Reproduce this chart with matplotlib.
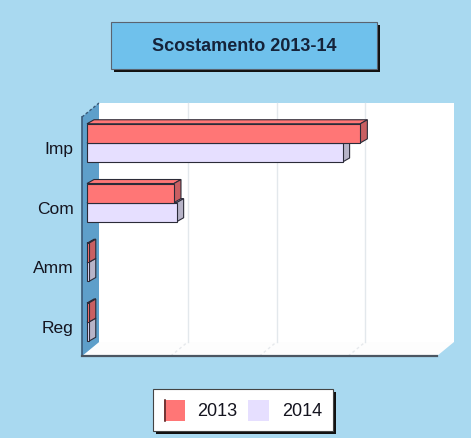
import matplotlib
matplotlib.use("Agg")
import matplotlib.pyplot as plt
from matplotlib.patches import Polygon, Rectangle
from matplotlib.transforms import IdentityTransform, offset_copy

# dati
categories = ["Imp", "Com", "Amm", "Reg"]
series = ["2013", "2014"]
val_2013 = [3.08, 0.98, 0.02, 0.02]
val_2014 = [2.88, 1.01, 0.02, 0.02]

W, H = 471, 439
BG = "#a9d9f0"
FONT = "Liberation Sans"

front_col = {"2013": "#ff7676", "2014": "#e6dfff"}
side_col = {"2013": "#c95f62", "2014": "#b7b4c8"}
EDGE = "#2b2b38"

# profondita' in pixel: pareti, spostamento barre, spessore barre
WALL_DX, WALL_DY = 17, 14
BAR_DX, BAR_DY = 5, 4
DEP_DX, DEP_DY = 7, 4

fig = plt.figure(figsize=(W / 100, H / 100), dpi=100, facecolor=BG)
ax = fig.add_axes([82 / W, 82 / H, 355 / W, 239 / H])
ax.set_xlim(0, 4)
ax.set_ylim(3.5, -0.5)
ax.patch.set_visible(False)
for s in ax.spines.values():
    s.set_visible(False)
ax.set_xticks([])
ax.set_yticks(range(len(categories)), categories)
ax.tick_params(axis="y", length=0, pad=6, labelsize=12.5, labelcolor="#14141f")
for t in ax.get_yticklabels():
    t.set_fontfamily(FONT)

pix = IdentityTransform()


def poly(pts, **kw):
    p = Polygon(pts, closed=True, transform=pix, clip_on=False, **kw)
    ax.add_patch(p)
    return p


# pareti e pavimento
x0, y0 = ax.transAxes.transform((0, 0))
x1, y1 = ax.transAxes.transform((1, 1))
poly([(x0 + WALL_DX, y0 + WALL_DY), (x1 + WALL_DX, y0 + WALL_DY),
      (x1 + WALL_DX, y1 + WALL_DY), (x0 + WALL_DX, y1 + WALL_DY)],
     facecolor="white", edgecolor="none", zorder=0.1)
poly([(x0, y0), (x1, y0), (x1 + WALL_DX, y0 + WALL_DY), (x0 + WALL_DX, y0 + WALL_DY)],
     facecolor="#fdfdfd", edgecolor="none", zorder=0.2)
for v in [1, 2, 3]:
    xv, _ = ax.transData.transform((v, 0))
    ax.plot([xv + WALL_DX, xv + WALL_DX], [y0 + WALL_DY, y1 + WALL_DY], transform=pix,
            color="#e3e8ec", lw=1, clip_on=False, zorder=0.3)
    ax.plot([xv, xv + WALL_DX], [y0, y0 + WALL_DY], transform=pix,
            color="#e6e9ec", lw=1, ls=(0, (2, 2)), clip_on=False, zorder=0.3)
poly([(x0, y0), (x0 + WALL_DX, y0 + WALL_DY), (x0 + WALL_DX, y1 + WALL_DY), (x0, y1)],
     facecolor="#5e9fca", edgecolor="none", zorder=0.4)
ax.plot([x0, x0], [y0, y1], transform=pix, color="#3a5a78", lw=1.2, clip_on=False, zorder=0.5)
ax.plot([x0, x0 + WALL_DX], [y1, y1 + WALL_DY], transform=pix, color="#3a5a78",
        lw=1, ls=(0, (2, 1.5)), clip_on=False, zorder=0.5)
ax.plot([x0, x1], [y0, y0], transform=pix, color="#4b5662", lw=1.6, clip_on=False, zorder=0.5)

# barre 3D
bar_h = 0.32
bar_tr = offset_copy(ax.transData, fig=fig, x=BAR_DX, y=BAR_DY, units="dots")
z = 2
for name, vals, dy in [("2014", val_2014, bar_h / 2), ("2013", val_2013, -bar_h / 2)]:
    for i, v in enumerate(vals):
        yc = i + dy
        (xa, ytop), = ax.transData.transform([(0, yc - bar_h / 2)])
        (xb, ybot), = ax.transData.transform([(v, yc + bar_h / 2)])
        xa += BAR_DX; xb += BAR_DX; ytop += BAR_DY; ybot += BAR_DY
        # faccia superiore
        poly([(xa, ytop), (xb, ytop), (xb + DEP_DX, ytop + DEP_DY), (xa + DEP_DX, ytop + DEP_DY)],
             facecolor=front_col[name], edgecolor=EDGE, lw=0.8, zorder=z)
        # faccia laterale
        poly([(xb, ytop), (xb, ybot), (xb + DEP_DX, ybot + DEP_DY), (xb + DEP_DX, ytop + DEP_DY)],
             facecolor=side_col[name], edgecolor=EDGE, lw=0.8, zorder=z)
    ax.barh([i + dy for i in range(len(vals))], vals, height=bar_h, left=0,
            color=front_col[name], edgecolor=EDGE, lw=0.8, transform=bar_tr,
            clip_on=False, zorder=z + 0.5)
    z += 1

# titolo
fig.patches.append(Rectangle((114, H - 73), 266, 47, transform=pix, facecolor="#111111",
                             edgecolor="none", zorder=1))
fig.patches.append(Rectangle((111, H - 70), 266, 47, transform=pix, facecolor="#6fc1ec",
                             edgecolor="#5a6470", lw=0.8, zorder=2))
fig.text(244 / W, 1 - 46.5 / H, "Scostamento 2013-14", ha="center", va="center",
         fontsize=13, fontweight="bold", color="#15233a", fontfamily=FONT)

# legenda
fig.patches.append(Rectangle((156, H - 435), 180, 42, transform=pix, facecolor="#111111",
                             edgecolor="none", zorder=1))
fig.patches.append(Rectangle((153, H - 432), 180, 42, transform=pix, facecolor="white",
                             edgecolor="#444444", lw=0.8, zorder=2))
for name, sx, tx in [("2013", 164, 197), ("2014", 248, 282)]:
    fig.patches.append(Rectangle((sx, H - 422), 21, 21, transform=pix,
                                 facecolor=front_col[name], edgecolor="none", zorder=3))
    fig.text(tx / W, 1 - 411.5 / H, name, ha="left", va="center", fontsize=13,
             color="#14141f", fontfamily=FONT, zorder=4)
# bordo scuro a sinistra del quadratino 2013
fig.lines.append(plt.Line2D([164.5, 164.5], [H - 422, H - 401], transform=pix,
                            color="#5a2a2a", lw=1.2, zorder=4))

fig.savefig("out.png", dpi=100, facecolor=BG)
